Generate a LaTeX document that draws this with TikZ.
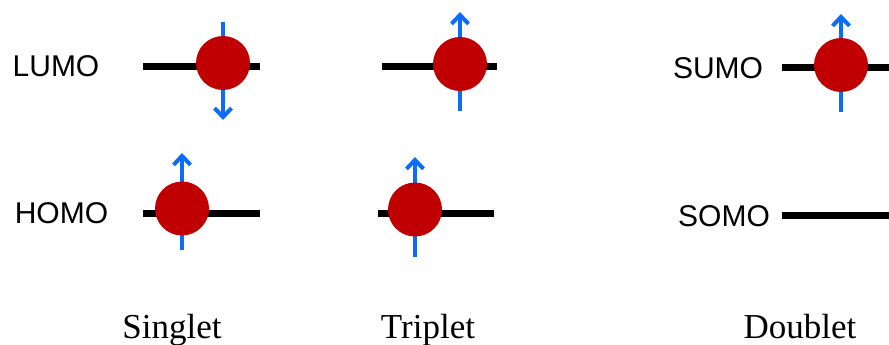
\documentclass[tikz,border=0pt]{standalone}
\usepackage{fontspec}
\setmainfont{Liberation Serif}
\setsansfont{Liberation Sans}
\usepackage{xcolor}
\usepackage{tikz}
\usetikzlibrary{positioning,arrows.meta}
\definecolor{elecred}{RGB}{192,0,0}
\definecolor{spinblue}{RGB}{12,108,245}

\begin{document}
\begin{tikzpicture}[x=1pt,y=-1pt,
    level/.style={line width=7pt},
    electron/.style={circle,fill=elecred,minimum size=54pt,inner sep=0},
    spin/.style={spinblue,line width=4pt,-{Straight Barb[length=9pt,width=17pt]}},
    orb/.style={font=\sffamily\fontsize{30}{36}\selectfont,anchor=base,inner sep=0},
    state/.style={font=\fontsize{35}{42}\selectfont,anchor=base,inner sep=0}]
    \useasboundingbox (0,0) rectangle (889,345);

    % orbital levels
    \foreach \i/\xa/\xb/\ly in {sl/143/260/67,sh/143/260/213,tl/382/497/67,th/378/494/213,dl/782/889/68,dh/782/889/215}
    {
        \coordinate (\i a) at (\xa,\ly);
        \coordinate (\i b) at (\xb,\ly);
        \draw[level] (\i a) -- (\i b);
    }

    % spins
    \foreach \i/\sx/\ya/\yb in {sl/223/22/120,sh/182/250/153,tl/460/111/12,th/415/257/157,dl/841/112/14}
    {
        \coordinate (\i s) at (\sx,\ya);
        \coordinate (\i e) at (\sx,\yb);
        \draw[spin] (\i s) -- (\i e);
    }

    % electrons
    \foreach \i/\sx/\sy in {sl/223/63,sh/182/208.5,tl/460/64,th/415/209.5,dl/841/65}
        \node[electron] (\i c) at (\sx,\sy) {};

    % orbital labels
    \node[orb] (lumo) at (56,77) {LUMO};
    \node[orb] (homo) at (61.5,223) {HOMO};
    \node[orb] (sumo) at (718,78) {SUMO};
    \node[orb] (somo) at (724,226) {SOMO};

    % state labels
    \node[state] (singlet) at (172,338) {Singlet};
    \node[state] (triplet) at (428,338) {Triplet};
    \node[state] (doublet) at (800,338) {Doublet};
\end{tikzpicture}
\end{document}
